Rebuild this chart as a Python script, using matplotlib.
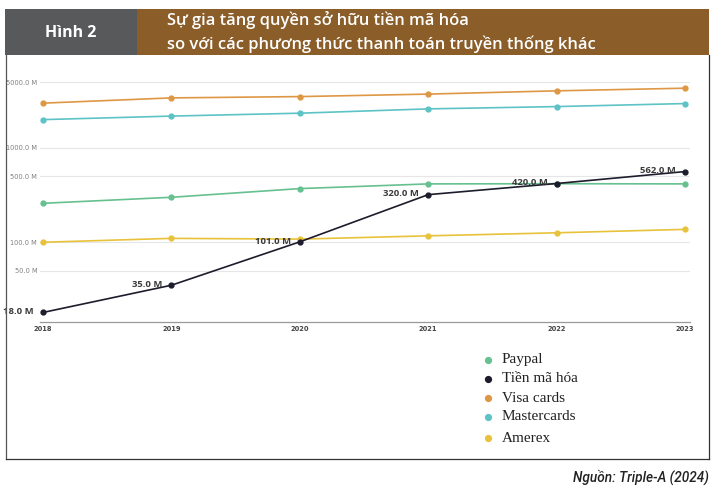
import matplotlib
matplotlib.use("Agg")
import matplotlib.pyplot as plt
from matplotlib.patches import Rectangle
from matplotlib.lines import Line2D

years = [2018, 2019, 2020, 2021, 2022, 2023]
paypal = [259, 300, 371, 416, 418, 416]
crypto = [18, 35, 101, 320, 420, 562]
visa = [2990, 3400, 3510, 3730, 4040, 4310]
master = [2000, 2180, 2340, 2600, 2750, 2960]
amerex = [100, 110, 108, 117, 126, 137]

series_names = ["Paypal", "Tiền mã hóa", "Visa cards", "Mastercards", "Amerex"]
series_vals = [paypal, crypto, visa, master, amerex]
series_colors = ["#66c08f", "#1c1c2c", "#de9845", "#5dc3c6", "#e9c23c"]

yticks = [50, 100, 500, 1000, 5000]
ytick_labels = ["50.0 M", "100.0 M", "500.0 M", "1000.0 M", "5000.0 M"]
crypto_labels = ["18.0 M", "35.0 M", "101.0 M", "320.0 M", "420.0 M", "562.0 M"]

W, H = 714, 493
fig = plt.figure(figsize=(W / 100, H / 100), dpi=100)
fig.patch.set_facecolor("white")

def fx(px):
    return px / W

def fy(py):
    return 1 - py / H

# header
fig.add_artist(Rectangle((fx(5), fy(55)), fx(137) - fx(5), fy(9.5) - fy(55),
                         transform=fig.transFigure, facecolor="#58595b", edgecolor="none"))
fig.add_artist(Rectangle((fx(137), fy(55)), fx(709) - fx(137), fy(9.5) - fy(55),
                         transform=fig.transFigure, facecolor="#8a5d29", edgecolor="none"))
fig.text(fx(71), fy(33), "Hình 2", color="white", fontsize=11.5, fontweight="bold",
         family=["Open Sans", "DejaVu Sans"], ha="center", va="center")
fig.text(fx(167), fy(20), "Sự gia tăng quyền sở hữu tiền mã hóa", color="white",
         fontsize=11.9, fontweight="semibold", family=["Open Sans", "DejaVu Sans"],
         ha="left", va="center")
fig.text(fx(167), fy(44), "so với các phương thức thanh toán truyền thống khác", color="white",
         fontsize=11.9, fontweight="semibold", family=["Open Sans", "DejaVu Sans"],
         ha="left", va="center")

# outer frame
fig.add_artist(Line2D([fx(6), fx(6)], [fy(55), fy(459)], transform=fig.transFigure,
                      color="#555555", lw=0.9))
fig.add_artist(Line2D([fx(708.5), fx(708.5)], [fy(55), fy(459)], transform=fig.transFigure,
                      color="#333333", lw=0.9))
fig.add_artist(Line2D([fx(6), fx(708.5)], [fy(459), fy(459)], transform=fig.transFigure,
                      color="#333333", lw=0.9))

# plot axes
ax_l, ax_r, ax_t, ax_b = 40, 690, 72, 322
ax = fig.add_axes([fx(ax_l), fy(ax_b), fx(ax_r) - fx(ax_l), fy(ax_t) - fy(ax_b)])
ax.set_yscale("log")
ax.set_xlim(2017.977, 2023.039)
ax.set_ylim(14.26, 6400)

order = [2, 3, 0, 4, 1]
for i in order:
    ax.plot(years, series_vals[i], color=series_colors[i], lw=1.2, marker="o",
            markersize=3.5, zorder=3 + (1 if i == 1 else 0), clip_on=False)

for x, v, lab in zip(years, crypto, crypto_labels):
    ax.annotate(lab, (x, v), xytext=(-6.5, 0.5), textcoords="offset points",
                ha="right", va="center", fontsize=6.8, fontweight="bold",
                family=["Open Sans", "DejaVu Sans"], color="#3a3a3a",
                annotation_clip=False, zorder=6)

ax.set_yticks(yticks)
ax.set_yticklabels(ytick_labels)
ax.minorticks_off()
ax.tick_params(axis="y", length=0, labelsize=4.8, labelcolor="#808080", pad=2)
ax.set_xticks(years)
ax.set_xticklabels([str(y) for y in years])
ax.tick_params(axis="x", length=0, labelsize=4.8, labelcolor="#444444", pad=3)
for t in ax.get_xticklabels():
    t.set_fontweight("bold")

ax.grid(axis="y", color="#e6e6e6", lw=0.8)
ax.grid(axis="x", visible=False)
for s in ["top", "right", "left"]:
    ax.spines[s].set_visible(False)
ax.spines["bottom"].set_color("#999999")
ax.spines["bottom"].set_linewidth(0.9)

# legend
leg_y = [360, 379, 398, 417, 438]
for name, col, yy in zip(series_names, series_colors, leg_y):
    fig.add_artist(Line2D([fx(488)], [fy(yy)], transform=fig.transFigure, marker="o",
                          markersize=4.2, color=col, lw=0))
    fig.text(fx(502), fy(yy), name, fontsize=11, family=["Liberation Serif", "DejaVu Serif"],
             color="#222222", ha="left", va="center")

# source
fig.text(fx(709), fy(477), "Nguồn: Triple-A (2024)", fontsize=9.8, style="italic",
         fontweight="medium", family=["Roboto", "DejaVu Sans"], color="#222222",
         ha="right", va="center")

fig.savefig("out.png", dpi=100, facecolor="white")
